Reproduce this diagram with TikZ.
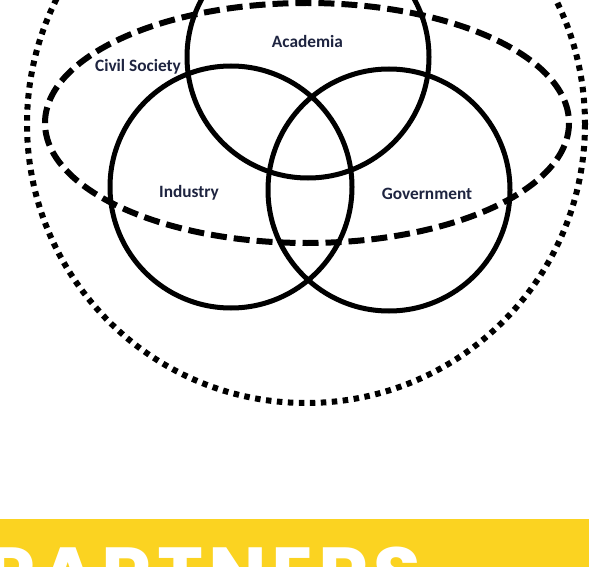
\documentclass[tikz,border=0pt]{standalone}
\usepackage{fontspec}
\setmainfont{Carlito}
\newfontfamily\bannerfont[LetterSpace=6]{Poppins}
\definecolor{labelink}{HTML}{1E2440}
\definecolor{banneryellow}{HTML}{FBD321}
\tikzset{
  venn/.style={draw=black, line width=5pt},
  society/.style={draw=black, line width=6pt, dash pattern=on 16pt off 7pt},
  world/.style={draw=black, line width=6pt, dash pattern=on 5.5pt off 5.5pt},
  lbl/.style={text=labelink, font=\fontsize{17.3}{19}\selectfont\bfseries, inner sep=0pt},
}
\begin{document}
\begin{tikzpicture}[x=1pt,y=-1pt]
\useasboundingbox (0,0) rectangle (589,567);
\clip (0,0) rectangle (589,567);
\fill[white] (0,0) rectangle (589,567);
% outer dotted circle
\draw[world] (306,124) circle[radius=279];
% civil society ellipse
\draw[society] (307,123) ellipse[x radius=262, y radius=120];
% three circles
\draw[venn] (308,57) circle[radius=121];
\draw[venn] (231,187) circle[radius=121];
\draw[venn] (389,190) circle[radius=121];
% labels
\node[lbl] (aca) at (307.5,41.5) {Academia};
\node[lbl] (civ) at (138,67) {Civil Society};
\node[lbl] (ind) at (189,193) {Industry};
\node[lbl] (gov) at (427,193.5) {Government};
% banner
\fill[banneryellow] (0,519) rectangle (589,567);
\node[anchor=base west, inner sep=0pt, text=white, font=\fontsize{78}{80}\bannerfont\bfseries] (ban) at (-14,602) {PARTNERS};
\end{tikzpicture}
\end{document}
